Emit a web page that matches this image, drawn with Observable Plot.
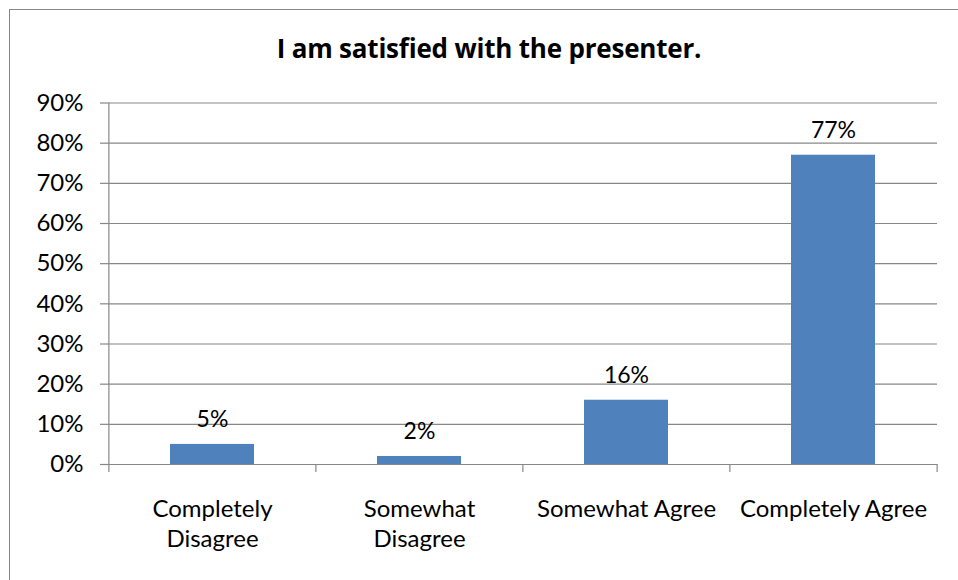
<!DOCTYPE html>
<html>
<head>
<meta charset="utf-8">
<script src="https://cdn.jsdelivr.net/npm/d3@7"></script>
<script src="https://cdn.jsdelivr.net/npm/@observablehq/plot@0.6"></script>
<style>
  html, body { margin: 0; padding: 0; background: #fff; overflow: hidden; }
  body { width: 958px; height: 580px; position: relative; font-family: Lato, "Open Sans", sans-serif; }
  #frame { position: absolute; left: 9px; top: 9px; width: 949px; height: 571px; border-left: 1.5px solid #878787; border-top: 1.5px solid #878787; box-sizing: border-box; }
  #title { position: absolute; left: 0; top: 30px; width: 978px; text-align: center; font-family: "Open Sans", Lato, sans-serif; font-weight: bold; font-size: 26px; line-height: 36px; letter-spacing: -0.2px; color: #000; }
  #chart { position: absolute; left: 0; top: 0; }
</style>
</head>
<body>
<div id="frame"></div>
<div id="title">I am satisfied with the presenter.</div>
<div id="chart"></div>
<script>
const categories = ["Completely\nDisagree", "Somewhat\nDisagree", "Somewhat Agree", "Completely Agree"];
const values = [5, 2, 16, 77];
const valueLabels = ["5%", "2%", "16%", "77%"];
const yTicks = [0, 10, 20, 30, 40, 50, 60, 70, 80, 90];

const data = categories.map((c, i) => ({category: c, value: values[i], label: valueLabels[i]}));

const W = 958, H = 580, mL = 108, mR = 21, mT = 102.5, mB = 116;
const step = (W - mL - mR) / categories.length;
const grid = "#878787";

const chart = Plot.plot({
  width: W,
  height: H,
  marginLeft: mL,
  marginRight: mR,
  marginTop: mT,
  marginBottom: mB,
  style: {fontFamily: "Lato, 'Open Sans', sans-serif", fontSize: "24px", color: "#000", background: "transparent"},
  x: {domain: categories, paddingInner: 0.595, paddingOuter: 0.2975, align: 0.5},
  y: {domain: [0, 90]},
  marks: [
    Plot.ruleY(yTicks, {stroke: grid, strokeWidth: 1.2}),
    Plot.barY(data, {x: "category", y: "value", fill: "#4F81BD"}),
    Plot.text(data, {x: "category", y: "value", text: "label", lineAnchor: "bottom", dy: -17, fill: "#000", fontSize: 23}),
    Plot.axisY({ticks: yTicks, tickFormat: d => d + "%", tickSize: 8, tickPadding: 17, stroke: grid, fill: "#000", fontSize: 24, label: null, strokeWidth: 1.2}),
    Plot.axisX({tickSize: 0, tickPadding: 31, fontSize: 24, lineHeight: 1.25, label: null, fill: "#000"}),
    Plot.ruleX(categories, {x: d => d, y1: 0, y2: 0, dx: -step / 2, insetBottom: -8, stroke: grid, strokeWidth: 1.2}),
    Plot.ruleX([categories[categories.length - 1]], {x: d => d, y1: 0, y2: 0, dx: step / 2, insetBottom: -8, stroke: grid, strokeWidth: 1.2}),
    Plot.ruleX([categories[0]], {x: d => d, y1: 0, y2: 90, dx: -step / 2, stroke: grid, strokeWidth: 1.2})
  ]
});
document.getElementById("chart").appendChild(chart);
</script>
</body>
</html>
